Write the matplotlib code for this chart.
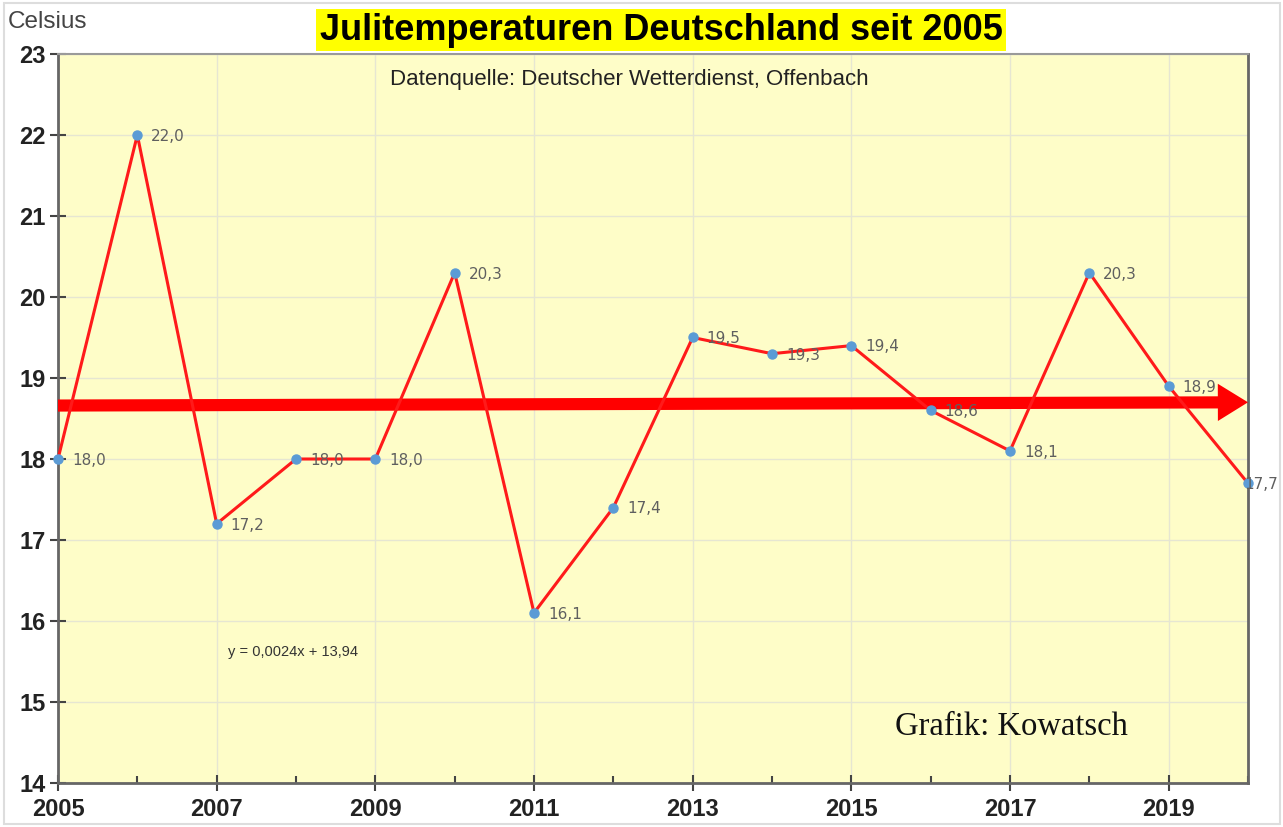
import matplotlib.pyplot as plt
from matplotlib.patches import FancyArrow, Rectangle
from matplotlib.ticker import FixedLocator, MultipleLocator

years = list(range(2005, 2021))
temps = [18.0, 22.0, 17.2, 18.0, 18.0, 20.3, 16.1, 17.4,
         19.5, 19.3, 19.4, 18.6, 18.1, 20.3, 18.9, 17.7]
labels = [f"{t:.1f}".replace(".", ",") for t in temps]
xtick_years = years[::2]
trend_start, trend_end = 18.66, 18.70

plt.rcParams['font.family'] = ['Liberation Sans', 'DejaVu Sans']

fig = plt.figure(figsize=(12.83, 8.27), dpi=100)
ax = fig.add_axes([58/1283, 1 - 783/827, (1248-58)/1283, (783-54)/827])
ax.set_facecolor('#fefdc8')

ax.set_xlim(2005, 2020)
ax.set_ylim(14, 23)
ax.xaxis.set_major_locator(FixedLocator(xtick_years))
ax.xaxis.set_minor_locator(MultipleLocator(1))
ax.yaxis.set_major_locator(MultipleLocator(1))
ax.grid(True, which='major', color='#e6e6d2', lw=1)
ax.set_axisbelow(True)

for s in ax.spines.values():
    s.set_color('#666666')
    s.set_linewidth(2)
ax.spines['top'].set_color('#9a9a9a')
ax.spines['top'].set_linewidth(1.5)

ax.tick_params(axis='both', which='major', direction='inout', length=12,
               width=1.5, color='#444444', labelsize=17, pad=5)
ax.tick_params(axis='x', which='minor', direction='in', length=5, width=1.5,
               color='#444444')
ax.tick_params(axis='y', pad=3)
for lab in ax.get_xticklabels() + ax.get_yticklabels():
    lab.set_fontweight('bold')
    lab.set_color('#222222')

# Trendpfeil
ax.add_patch(FancyArrow(2005, trend_start, 15, trend_end - trend_start,
                        width=0.15, head_width=0.46, head_length=0.38,
                        length_includes_head=True, color='#ff0000', lw=0,
                        clip_on=False, zorder=3))

ax.plot(years, temps, color='#ff1a1a', lw=2.2, zorder=4, clip_on=False)
ax.plot(years, temps, 'o', color='#5b9bd5', ms=6.5, zorder=5, clip_on=False)
for i, (x, y, l) in enumerate(zip(years, temps, labels)):
    dx = -2.5 if i == len(years) - 1 else 10
    ax.annotate(l, (x, y), xytext=(dx, -1), textcoords='offset points',
                va='center', ha='left', fontsize=11, color='#5f5f5f',
                family=['DejaVu Sans'], zorder=6, annotation_clip=False)

ax.text(0.143, 0.18, "y = 0,0024x + 13,94", transform=ax.transAxes,
        va='center', fontsize=10.5, color='#333333')
ax.text(0.899, 0.077, "Grafik: Kowatsch", transform=ax.transAxes, ha='right',
        va='center', fontsize=23.5, family=['Liberation Serif', 'DejaVu Serif'],
        color='#111111')

fig.text(661/1283, 1 - 30/827, "Julitemperaturen Deutschland seit 2005",
         ha='center', va='center', fontsize=26, fontweight='bold',
         bbox=dict(boxstyle='square,pad=0.1', fc='#ffff00', ec='none'))
fig.text(629/1283, 1 - 80/827, "Datenquelle: Deutscher Wetterdienst, Offenbach",
         ha='center', va='center', fontsize=16, color='#222222',
         family=['Liberation Sans Narrow', 'Liberation Sans', 'DejaVu Sans'])
fig.text(8/1283, 1 - 22/827, "Celsius", ha='left', va='center',
         fontsize=17.5, color='#444444')

fig.patches.append(Rectangle((0.003, 0.004), 0.995, 0.992, transform=fig.transFigure,
                             fill=False, ec='#dddddd', lw=1.5))

fig.savefig('out.png', dpi=100)
